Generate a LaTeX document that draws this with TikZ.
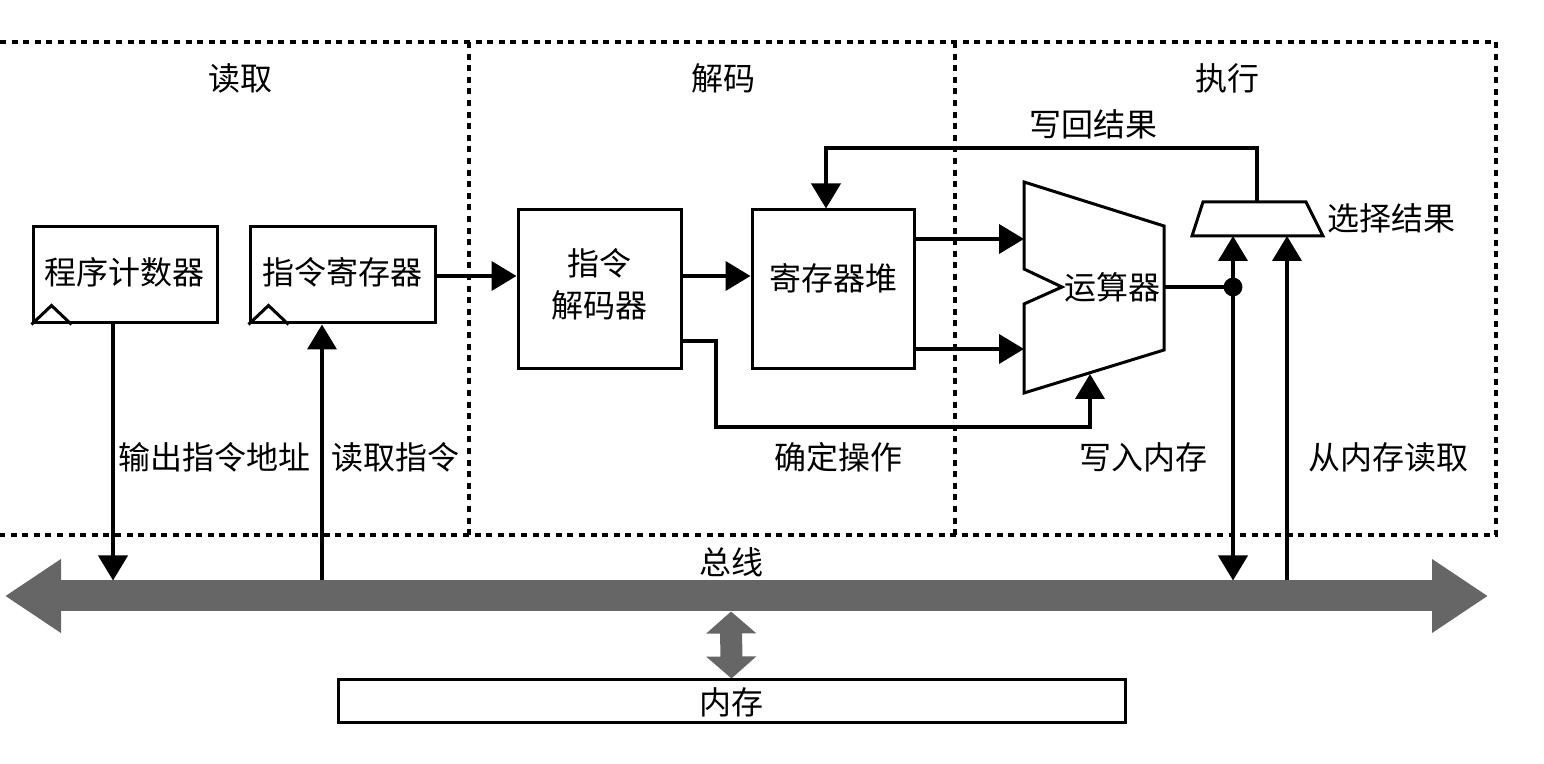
\documentclass[tikz,border=0pt]{standalone}
\usepackage{fontspec}
\setmainfont{Noto Sans CJK SC}
\usetikzlibrary{arrows.meta}
\tikzset{
  box/.style={draw, line width=1.5pt, fill=white, inner sep=0pt},
  txt/.style={inner sep=0pt, font=\fontsize{16pt}{21pt}\selectfont, align=center},
  sig/.style={line width=2pt, -{Triangle[width=14.5pt,length=12.5pt]}},
  dsig/.style={line width=2pt, {Triangle[width=14.5pt,length=12.5pt]}-{Triangle[width=14.5pt,length=12.5pt]}},
  wire/.style={line width=2pt},
  stage/.style={line width=2.4pt, dash pattern=on 3pt off 2.8pt},
  unit/.style={line width=1.5pt, line join=miter, fill=white},
}
\begin{document}
\begin{tikzpicture}[x=0.5pt,y=-0.5pt]
\useasboundingbox (0,0) rectangle (1544,764);
% stage frame
\draw[stage] (0,42) -- (1496,42) -- (1496,535) -- (0,535);
\draw[stage] (469,42) -- (469,535);
\draw[stage] (955,42) -- (955,535);
\node[txt] (sfetch) at (240,78) {读取};
\node[txt] (sdecode) at (723,78) {解码};
\node[txt] (sexec) at (1227,78) {执行};

% bus
\coordinate (busL) at (5,596);
\coordinate (busR) at (1488,596);
\draw[line width=15.5pt, color=black!60, {Triangle[width=35pt,length=28pt]}-{Triangle[width=35pt,length=28pt]}] (busL) -- (busR);
\node[txt] (buslbl) at (731,562) {总线};

% memory
\node[box, minimum width=393.5pt, minimum height=21.5pt] (mem) at (731.5,701.5) {};
\node[txt] (memlbl) at (731.5,702) {内存};
\coordinate (busM) at (731,611.5);
\draw[line width=11pt, color=black!60, {Triangle[width=24.5pt,length=11pt]}-{Triangle[width=24.5pt,length=11pt]}] (busM) -- (mem.north);

% PC and IR
\node[box, minimum width=92pt, minimum height=48pt] (pc) at (125,275) {};
\node[txt] (pclbl) at (125,272) {程序计数器};
\draw[line width=1.5pt] (pc.south west) -- ++(20,-19) -- ++(20,19);
\node[box, minimum width=92.5pt, minimum height=48pt] (ir) at (342.5,275) {};
\node[txt] (irlbl) at (342.5,272) {指令寄存器};
\draw[line width=1.5pt] (ir.south west) -- ++(20,-19) -- ++(20,19);

% decoder and register file
\node[box, minimum width=81.5pt, minimum height=79.5pt] (dec) at (599.5,289.5) {};
\node[txt] (declbl) at (599.5,284) {指令\\解码器};
\node[box, minimum width=81pt, minimum height=79.5pt] (reg) at (833,289.5) {};
\node[txt] (reglbl) at (833,278) {寄存器堆};

% ALU
\coordinate (aTL) at (1024,182);
\coordinate (aTR) at (1164,226);
\coordinate (aBR) at (1164,350);
\coordinate (aBL) at (1024,393);
\draw[unit] (aTL) -- (aTR) -- (aBR) -- (aBL) -- (1024,304) -- (1062,287) -- (1024,269) -- cycle;
\node[txt] (alulbl) at (1112,287) {运算器};

% MUX
\draw[unit] (1203,202) -- (1306,202) -- (1323,236) -- (1192,236) -- cycle;
\node[txt, anchor=west] (muxlbl) at (1327,218) {选择结果};

% named points
\coordinate (aluIn1) at (1024,239);
\coordinate (aluIn2) at (1024,349);
\coordinate (aluCtl) at (1090,374);
\coordinate (aluOut) at (1164,287);
\coordinate (dot) at (1233,287);
\coordinate (muxIn1) at (1233,236);
\coordinate (muxIn2) at (1287,236);
\coordinate (muxOut) at (1257,202);
\coordinate (busPC) at (113,580.5);
\coordinate (busIR) at (322,580.5);
\coordinate (busW) at (1233,580.5);
\coordinate (busR2) at (1287,580.5);

% connectors
\draw[sig] (pc.south -| busPC) -- (busPC);
\draw[sig] (busIR) -- (ir.south -| busIR);
\draw[sig] (ir.east |- 0,276) -- (dec.west |- 0,276);
\draw[sig] (dec.east |- 0,276) -- (reg.west |- 0,276);
\draw[sig] (reg.east |- aluIn1) -- (aluIn1);
\draw[sig] (reg.east |- aluIn2) -- (aluIn2);
\draw[sig] (dec.east |- 0,341) -- (716,341) -- (716,427) -- (1090,427) -- (aluCtl);
\draw[wire] (aluOut) -- (dot);
\draw[dsig] (busW) -- (muxIn1);
\fill (dot) circle (4.7pt);
\draw[sig] (busR2) -- (muxIn2);
\draw[sig] (muxOut) -- (1257,148) -- (826,148) -- (reg.north -| 826,0);

% labels
\node[txt] (l1) at (215,457) {输出指令地址};
\node[txt] (l2) at (395,457) {读取指令};
\node[txt] (l3) at (838,457) {确定操作};
\node[txt] (l4) at (1143,457) {写入内存};
\node[txt] (l5) at (1388,457) {从内存读取};
\node[txt] (l6) at (1093,124) {写回结果};
\end{tikzpicture}
\end{document}
